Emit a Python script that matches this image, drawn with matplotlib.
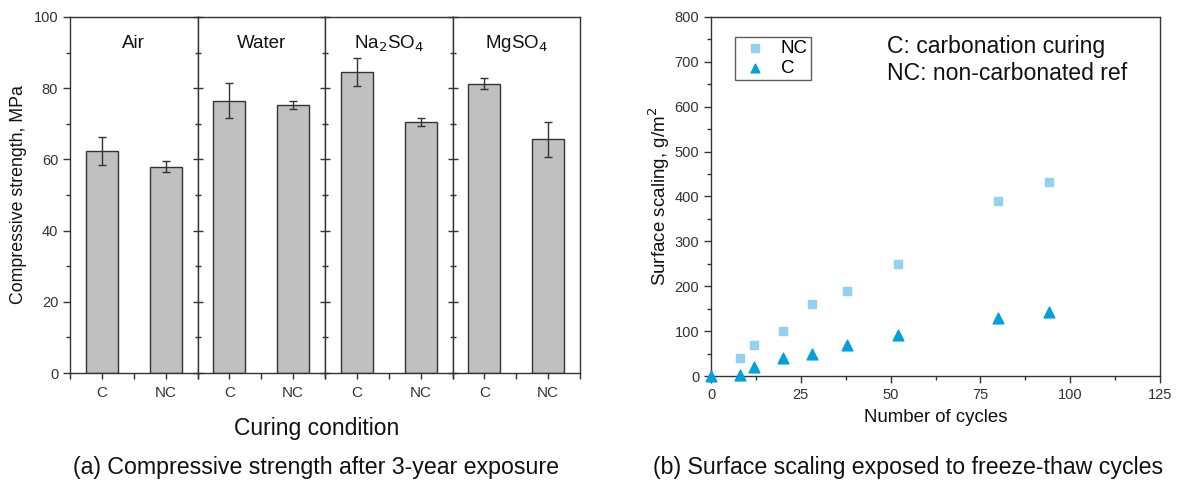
import matplotlib
matplotlib.use("Agg")
import matplotlib.pyplot as plt
from matplotlib.ticker import MultipleLocator, FixedLocator
import numpy as np

plt.rcParams['font.family'] = ['Liberation Sans', 'DejaVu Sans']

# ---- Data: panel (a) ----
conditions = ["Air", "Water", "Na$_2$SO$_4$", "MgSO$_4$"]
bar_labels = ["C", "NC"]
strength_C = [62.3, 76.5, 84.6, 81.3]
strength_NC = [58.0, 75.3, 70.5, 65.6]
err_C = [4.0, 5.0, 4.0, 1.5]
err_NC = [1.5, 1.1, 1.0, 5.0]

# ---- Data: panel (b) ----
cycles_NC = [8, 12, 20, 28, 38, 52, 80, 94]
scaling_NC = [40, 70, 100, 160, 190, 250, 390, 432]
cycles_C = [0, 8, 12, 20, 28, 38, 52, 80, 94]
scaling_C = [0, 2, 20, 40, 50, 70, 92, 130, 143]

W, H = 1180, 486
fig = plt.figure(figsize=(W / 100, H / 100), dpi=100)

# ---------------- Panel (a) ----------------
left_px, right_px, top_px, bot_px = 70, 580, 17, 373
pw = (right_px - left_px) / 4
axes_a = []
for i in range(4):
    ax = fig.add_axes([(left_px + i * pw) / W, 1 - bot_px / H, pw / W, (bot_px - top_px) / H])
    axes_a.append(ax)
    vals = [strength_C[i], strength_NC[i]]
    errs = [err_C[i], err_NC[i]]
    ax.bar([0, 1], vals, width=0.5, color="#c0c0c0", edgecolor="#333333", linewidth=1.0,
           yerr=errs, error_kw=dict(ecolor="#333333", elinewidth=1.0, capsize=3, capthick=1.0))
    ax.set_xlim(-0.5, 1.5)
    ax.set_ylim(0, 100)
    ax.set_xticks([0, 1])
    ax.set_xticklabels(bar_labels, fontsize=11, color="#333333")
    ax.xaxis.set_minor_locator(FixedLocator([-0.5, 0.5, 1.5]))
    ax.yaxis.set_major_locator(MultipleLocator(20))
    ax.yaxis.set_minor_locator(MultipleLocator(10))
    ax.tick_params(axis='x', which='both', direction='out', length=4, width=1, color="#333333", pad=5)
    ax.text(0.5, 92.5, conditions[i], ha='center', va='center', fontsize=13.5, color="#111111")
    for s in ax.spines.values():
        s.set_color("#333333")
        s.set_linewidth(1.0)
    if i == 0:
        ax.tick_params(axis='y', which='major', direction='out', length=5, width=1,
                       color="#333333", labelsize=10.5, labelcolor="#333333")
        ax.tick_params(axis='y', which='minor', direction='out', length=3, width=1, color="#333333")
        ax.set_ylabel("Compressive strength, MPa", fontsize=12.8, color="#111111", labelpad=5)
    else:
        ax.tick_params(axis='y', which='major', direction='inout', length=7, width=1,
                       color="#333333", labelleft=False)
        ax.tick_params(axis='y', which='minor', direction='inout', length=5, width=1, color="#333333")

fig.text(317 / W, 1 - 428 / H, "Curing condition", ha='center', va='center',
         fontsize=16.5, color="#111111")
fig.text(316 / W, 1 - 467 / H, "(a) Compressive strength after 3-year exposure",
         ha='center', va='center', fontsize=16.7, color="#111111")

# ---------------- Panel (b) ----------------
l2, r2, t2, b2 = 711, 1160, 17, 376
axb = fig.add_axes([l2 / W, 1 - b2 / H, (r2 - l2) / W, (b2 - t2) / H])
axb.scatter(cycles_NC, scaling_NC, marker='s', s=40, color="#92d1f0", label="NC", zorder=3, clip_on=False)
axb.scatter(cycles_C, scaling_C, marker='^', s=60, color="#00a0dc", label="C", zorder=3, clip_on=False)
axb.set_xlim(0, 125)
axb.set_ylim(0, 800)
axb.xaxis.set_major_locator(MultipleLocator(25))
axb.xaxis.set_minor_locator(MultipleLocator(12.5))
axb.yaxis.set_major_locator(MultipleLocator(100))
axb.yaxis.set_minor_locator(MultipleLocator(50))
axb.tick_params(axis='both', which='major', direction='out', length=5, width=1, color="#333333",
                labelsize=10.5, labelcolor="#333333")
axb.tick_params(axis='both', which='minor', direction='out', length=3, width=1, color="#333333")
for s in axb.spines.values():
    s.set_color("#333333")
    s.set_linewidth(1.0)
axb.set_xlabel("Number of cycles", fontsize=13.4, color="#111111", labelpad=5)
axb.set_ylabel("Surface scaling, g/m$^2$", fontsize=13.5, color="#111111", labelpad=2)
leg = axb.legend(loc='upper left', bbox_to_anchor=((735 - l2) / (r2 - l2), 1 - (37 - t2) / (b2 - t2)),
                 frameon=True, fancybox=False, edgecolor="#333333", fontsize=13.5, markerscale=0.8,
                 handletextpad=0.5, borderpad=0.15, labelspacing=0.15, handlelength=1.8, borderaxespad=0)
leg.get_frame().set_linewidth(1.0)
axb.text((887 - l2) / (r2 - l2), 1 - (46 - t2) / (b2 - t2), "C: carbonation curing",
         transform=axb.transAxes, ha='left', va='center', fontsize=16.6, color="#111111")
axb.text((887 - l2) / (r2 - l2), 1 - (73 - t2) / (b2 - t2), "NC: non-carbonated ref",
         transform=axb.transAxes, ha='left', va='center', fontsize=16.6, color="#111111")
fig.text(908 / W, 1 - 467 / H, "(b) Surface scaling exposed to freeze-thaw cycles",
         ha='center', va='center', fontsize=16.7, color="#111111")

fig.savefig("out.png", dpi=100, facecolor="white")
